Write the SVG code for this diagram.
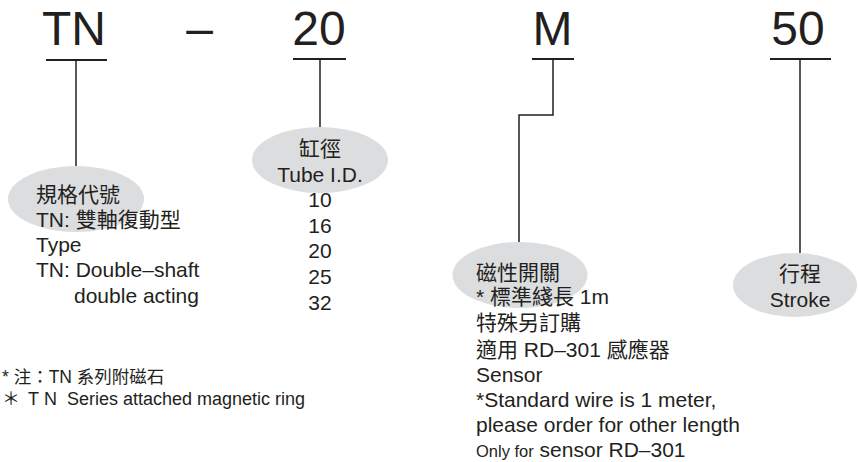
<svg xmlns="http://www.w3.org/2000/svg" width="858" height="462" viewBox="0 0 858 462">
<style>
text{font-family:"Liberation Sans","Noto Sans CJK TC",Arial,sans-serif;fill:#231f20}
.code{font-size:48px;text-anchor:middle}
.t{font-size:21px}
.c{text-anchor:middle}
.bub{fill:#dcdddf}
.ln{stroke:#231f20;stroke-width:1.5;fill:none}
.ul{stroke:#231f20;stroke-width:2;fill:none}
.fn{font-size:17.5px}
.fn2{font-size:18px}
</style>
<rect width="858" height="462" fill="#ffffff"/>
<g id="connectors">
<line class="ul" x1="46" y1="60" x2="107" y2="60"/>
<line class="ln" x1="76" y1="60" x2="76" y2="166"/>
<line class="ul" x1="293" y1="59" x2="346" y2="59"/>
<line class="ln" x1="320" y1="59" x2="320" y2="127"/>
<line class="ul" x1="532" y1="59" x2="574" y2="59"/>
<path class="ln" d="M553,59 V115 H519 V242"/>
<line class="ul" x1="770" y1="59" x2="831" y2="59"/>
<line class="ln" x1="800" y1="59" x2="800" y2="253"/>
</g>
<g id="code-TN"><text class="code" x="74" y="45">TN</text></g>
<g id="code-dash"><text class="code" x="199.5" y="45">–</text></g>
<g id="code-20"><text class="code" x="319" y="45">20</text></g>
<g id="code-M"><text class="code" x="552.5" y="45">M</text></g>
<g id="code-50"><text class="code" x="798" y="45">50</text></g>
<g id="node-type">
<ellipse class="bub" cx="76" cy="199" rx="68" ry="33"/>
<text class="t" x="36" y="201.5">規格代號</text>
<text class="t" x="36" y="227">TN: 雙軸復動型</text>
<text class="t" x="36" y="252">Type</text>
<text class="t" x="36" y="277">TN: Double–shaft</text>
<text class="t" x="74" y="303">double acting</text>
</g>
<g id="node-tube">
<ellipse class="bub" cx="320" cy="160" rx="68" ry="33"/>
<text class="t c" x="320" y="155.5">缸徑</text>
<text class="t c" x="320" y="182">Tube I.D.</text>
<text class="t c" x="320" y="207">10</text>
<text class="t c" x="320" y="233">16</text>
<text class="t c" x="320" y="258">20</text>
<text class="t c" x="320" y="284">25</text>
<text class="t c" x="320" y="310">32</text>
</g>
<g id="node-sensor">
<ellipse class="bub" cx="520" cy="275" rx="67.5" ry="33"/>
<text class="t" x="476" y="280">磁性開關</text>
<text class="t" x="476" y="304">* 標準綫長 1m</text>
<text class="t" x="476" y="330">特殊另訂購</text>
<text class="t" x="476" y="356.5">適用 RD–301 感應器</text>
<text class="t" x="476" y="381.5">Sensor</text>
<text class="t" x="476" y="406.5">*Standard wire is 1 meter,</text>
<text class="t" x="476" y="431.5">please order for other length</text>
<text class="t" x="476" y="456.5"><tspan font-size="16.5px">Only for</tspan> sensor RD–301</text>
</g>
<g id="node-stroke">
<ellipse class="bub" cx="795" cy="285" rx="62" ry="32"/>
<text class="t c" x="800" y="281">行程</text>
<text class="t c" x="800" y="306.5">Stroke</text>
</g>
<g id="note">
<text class="fn" x="2" y="383">* 注：TN 系列附磁石</text>
<text class="fn2" y="405"><tspan x="2">＊</tspan><tspan x="28">T</tspan><tspan x="44">N</tspan><tspan x="67">Series attached magnetic ring</tspan></text>
</g>
</svg>
